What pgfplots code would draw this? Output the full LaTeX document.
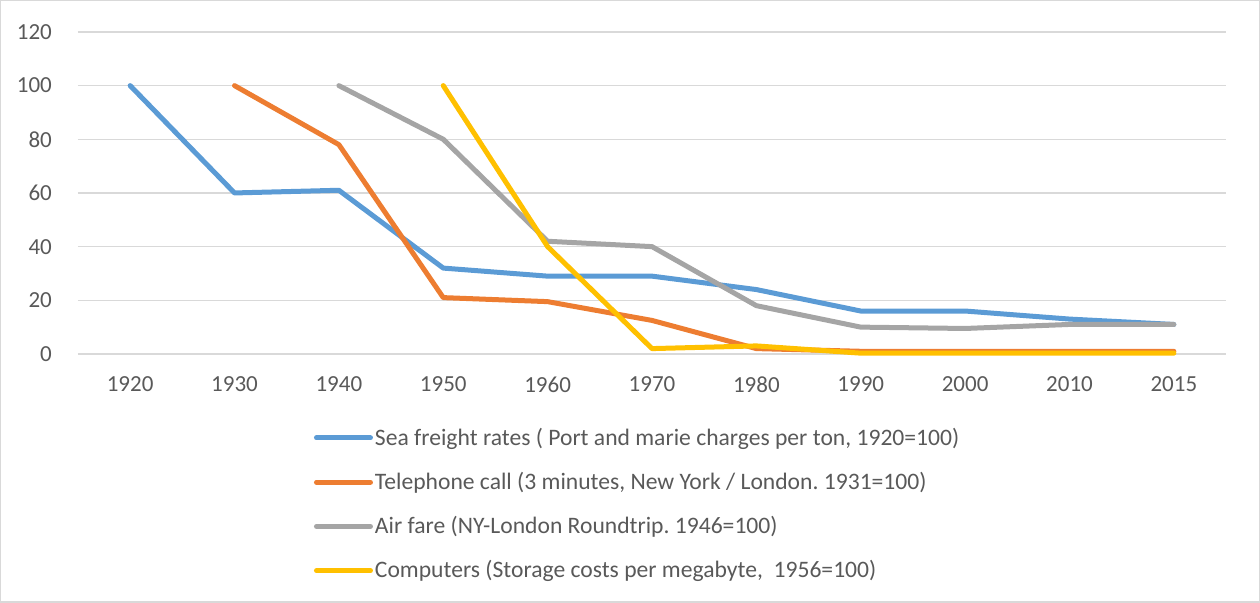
\documentclass[border=0pt]{standalone}
\usepackage{fontspec}
\setmainfont{Carlito}
\usepackage{pgfplots}
\pgfplotsset{compat=1.18}
\definecolor{cblue}{HTML}{5B9BD5}
\definecolor{corange}{HTML}{ED7D31}
\definecolor{cgray}{HTML}{A5A5A5}
\definecolor{cyellow}{HTML}{FFC000}
\definecolor{gridc}{HTML}{D9D9D9}
\definecolor{tickc}{HTML}{595959}
\frenchspacing
\begin{document}
\begin{tikzpicture}
\draw[gridc, line width=0.75pt] (0.4pt,0.4pt) rectangle (629.6pt,301.1pt);
\begin{axis}[
  at={(39pt,124.5pt)}, anchor=south west,
  scale only axis, width=574pt, height=161pt,
  xmin=-0.5, xmax=10.5, ymin=0, ymax=120,
  xtick={0,...,10},
  xticklabels={1920,1930,1940,1950,1960,1970,1980,1990,2000,2010,2015},
  ytick={0,20,...,120},
  axis line style={draw=none},
  major tick length=0pt,
  ymajorgrids, grid style={gridc, line width=0.75pt},
  /pgf/number format/assume math mode=true,
  ticklabel style={font=\fontsize{11.5}{13}\selectfont, text=tickc},
  xticklabel style={yshift=-8pt},
  yticklabel style={xshift=-9.5pt},
  clip=false,
  every axis plot/.append style={line width=2.5pt, line cap=round, line join=round, no markers},
  legend image code/.code={\draw[#1, line cap=round] (0pt,0pt) -- (27pt,0pt);},
  legend cell align=left,
  legend style={at={(axis description cs:0.2,-0.2155)}, anchor=north west, draw=none, fill=none,
    font=\fontsize{11.8}{13}\selectfont, text=tickc, row sep=12.0pt,
    nodes={inner xsep=1pt, inner ysep=0pt}},
]
\addplot[cblue] coordinates {(0,100)(1,60)(2,61)(3,32)(4,29)(5,29)(6,24)(7,16)(8,16)(9,13)(10,11)};
\addlegendentry{Sea freight rates ( Port and marie charges per ton, 1920=100)}
\addplot[corange] coordinates {(1,100)(2,78)(3,21)(4,19.5)(5,12.5)(6,2)(7,1)(8,1)(9,1)(10,1)};
\addlegendentry{Telephone call (3 minutes, New York / London. 1931=100)}
\addplot[cgray] coordinates {(2,100)(3,80)(4,42)(5,40)(6,18)(7,10)(8,9.5)(9,11)(10,11)};
\addlegendentry{Air fare (NY-London Roundtrip. 1946=100)}
\addplot[cyellow] coordinates {(3,100)(4,40)(5,2)(6,3)(7,0.3)(8,0.3)(9,0.3)(10,0.3)};
\addlegendentry{Computers (Storage costs per megabyte,\ \ 1956=100)}
\end{axis}
\end{tikzpicture}
\end{document}
